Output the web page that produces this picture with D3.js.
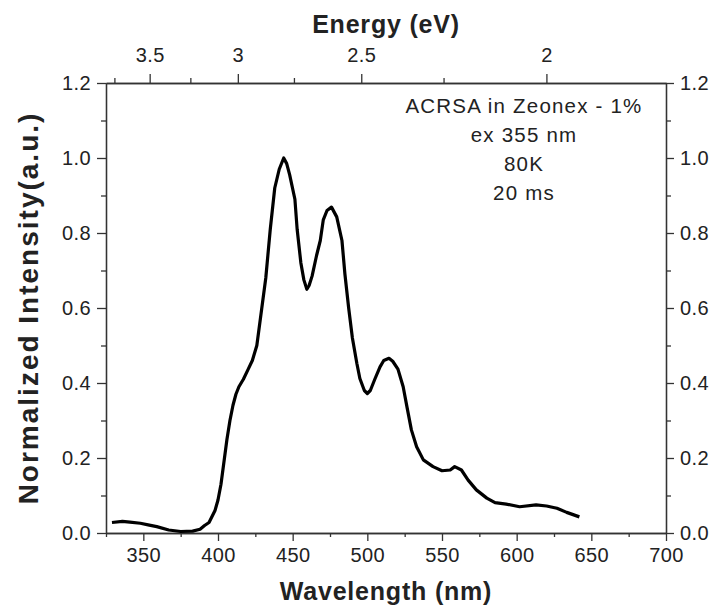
<!DOCTYPE html>
<html>
<head>
<meta charset="utf-8">
<script src="https://cdn.jsdelivr.net/npm/d3@7"></script>
<style>
  html, body { margin: 0; padding: 0; background: #fff; overflow: hidden; }
  svg { display: block; }
  svg text { font-family: "Liberation Sans", Arial, sans-serif; fill: #222; }
  .axis path, .axis line { stroke: #333; stroke-width: 1.3; }
  .axis text { font-size: 20px; letter-spacing: 0.4px; }
  .title { font-weight: bold; font-size: 25px; letter-spacing: 0.8px; }
</style>
</head>
<body>
<div id="chart"></div>
<script>
// Emission spectrum
const wavelength = [329, 336, 341, 348, 354, 359, 367, 375, 383, 388, 391, 394, 398, 400,
  402, 404, 406, 408, 410, 412, 414, 417, 420, 423, 426, 429, 432, 435, 438, 441, 444,
  446, 448, 451.5, 453, 455.5, 457.5, 459.5, 461, 463, 466, 468.5, 470.5, 473, 476, 479.5,
  483, 485, 487.5, 490, 493, 495, 498, 500, 502, 505, 508.5, 511, 514.5, 517, 520.5, 524,
  526.5, 529.5, 533, 537.5, 544, 550, 555.5, 558.5, 563, 567.5, 573, 580, 585.5, 593, 602,
  613, 620, 627, 633.5, 642];
const intensity = [0.028, 0.031, 0.029, 0.026, 0.021, 0.017, 0.008, 0.004, 0.005, 0.010, 0.020, 0.028, 0.060, 0.088,
  0.13, 0.19, 0.25, 0.30, 0.34, 0.37, 0.39, 0.41, 0.435, 0.46, 0.50, 0.59, 0.68, 0.81, 0.92, 0.97, 1.0,
  0.985, 0.955, 0.89, 0.81, 0.72, 0.675, 0.65, 0.66, 0.685, 0.74, 0.78, 0.835, 0.86, 0.869, 0.843,
  0.78, 0.69, 0.60, 0.52, 0.452, 0.412, 0.38, 0.372, 0.38, 0.41, 0.443, 0.46, 0.466, 0.458, 0.437, 0.39,
  0.337, 0.275, 0.23, 0.195, 0.177, 0.166, 0.168, 0.177, 0.168, 0.141, 0.115, 0.093, 0.081, 0.077, 0.070,
  0.075, 0.072, 0.066, 0.055, 0.043];

const xTicks = [350, 400, 450, 500, 550, 600, 650, 700];
const yTicks = [0, 0.2, 0.4, 0.6, 0.8, 1.0, 1.2];
const energyTicks = [3.5, 3, 2.5, 2];
const energyMinor = [3.75, 3.25, 2.75, 2.25];
const legendLines = ['ACRSA in Zeonex - 1%', 'ex 355 nm', '80K', '20 ms'];

const width = 713, height = 612;
const margin = { top: 83, right: 47, bottom: 79, left: 106 };
const innerWidth = width - margin.left - margin.right;
const innerHeight = height - margin.top - margin.bottom;

const svg = d3.select('#chart').append('svg')
  .attr('width', width)
  .attr('height', height);

const g = svg.append('g')
  .attr('transform', `translate(${margin.left},${margin.top})`);

const x = d3.scaleLinear().domain([325, 700]).range([0, innerWidth]);
const y = d3.scaleLinear().domain([0, 1.2]).range([innerHeight, 0]);

// eV -> nm for the top axis
const toNm = e => 1239.84 / e;

// minor ticks
const xMinor = d3.range(325, 701, 25).filter(v => !xTicks.includes(v));
const yMinor = d3.range(0.1, 1.2, 0.2);

g.append('g').attr('class', 'axis')
  .attr('transform', `translate(0,${innerHeight})`)
  .call(d3.axisBottom(x).tickValues(xMinor).tickSize(4).tickSizeOuter(0).tickFormat(''));
g.append('g').attr('class', 'axis')
  .attr('transform', `translate(0,${innerHeight})`)
  .call(d3.axisBottom(x).tickValues(xTicks).tickSize(8).tickSizeOuter(0).tickPadding(7));

g.append('g').attr('class', 'axis')
  .call(d3.axisTop(x).tickValues(energyMinor.map(toNm)).tickSize(5).tickSizeOuter(0).tickFormat(''));
g.append('g').attr('class', 'axis')
  .call(d3.axisTop(x).tickValues(energyTicks.map(toNm)).tickSize(9).tickSizeOuter(0).tickPadding(12)
    .tickFormat(d => d3.format('~g')(Math.round(1239.84 / d * 100) / 100)));

g.append('g').attr('class', 'axis')
  .call(d3.axisLeft(y).tickValues(yMinor).tickSize(5).tickSizeOuter(0).tickFormat(''));
g.append('g').attr('class', 'axis')
  .call(d3.axisLeft(y).tickValues(yTicks).tickSize(9).tickSizeOuter(0).tickPadding(6).tickFormat(d3.format('.1f')));

g.append('g').attr('class', 'axis')
  .attr('transform', `translate(${innerWidth},0)`)
  .call(d3.axisRight(y).tickValues(yMinor).tickSize(5).tickSizeOuter(0).tickFormat(''));
g.append('g').attr('class', 'axis')
  .attr('transform', `translate(${innerWidth},0)`)
  .call(d3.axisRight(y).tickValues(yTicks).tickSize(8).tickSizeOuter(0).tickPadding(6).tickFormat(d3.format('.1f')));

// Spectrum
const data = wavelength.map((w, i) => ({ w, v: intensity[i] }));
g.append('path')
  .datum(data)
  .attr('fill', 'none')
  .attr('stroke', '#000')
  .attr('stroke-width', 3.2)
  .attr('stroke-linejoin', 'round')
  .attr('d', d3.line().x(d => x(d.w)).y(d => y(d.v)));

// Titles
svg.append('text').attr('class', 'title')
  .attr('x', margin.left + innerWidth / 2).attr('y', 600)
  .attr('text-anchor', 'middle')
  .text('Wavelength (nm)');

svg.append('text').attr('class', 'title')
  .attr('x', margin.left + innerWidth / 2).attr('y', 33)
  .attr('text-anchor', 'middle')
  .text('Energy (eV)');

svg.append('text').attr('class', 'title')
  .attr('transform', `translate(38,${margin.top + innerHeight / 2}) rotate(-90)`)
  .attr('text-anchor', 'middle')
  .style('font-size', '28px')
  .style('letter-spacing', '2px')
  .text('Normalized Intensity(a.u.)');

// Annotation
const legend = svg.append('g');
legend.selectAll('text')
  .data(legendLines)
  .enter().append('text')
  .attr('x', 524)
  .attr('y', (d, i) => 113 + i * 29)
  .attr('text-anchor', 'middle')
  .style('font-size', '20.5px')
  .style('letter-spacing', '1.2px')
  .text(d => d);
</script>
</body>
</html>
